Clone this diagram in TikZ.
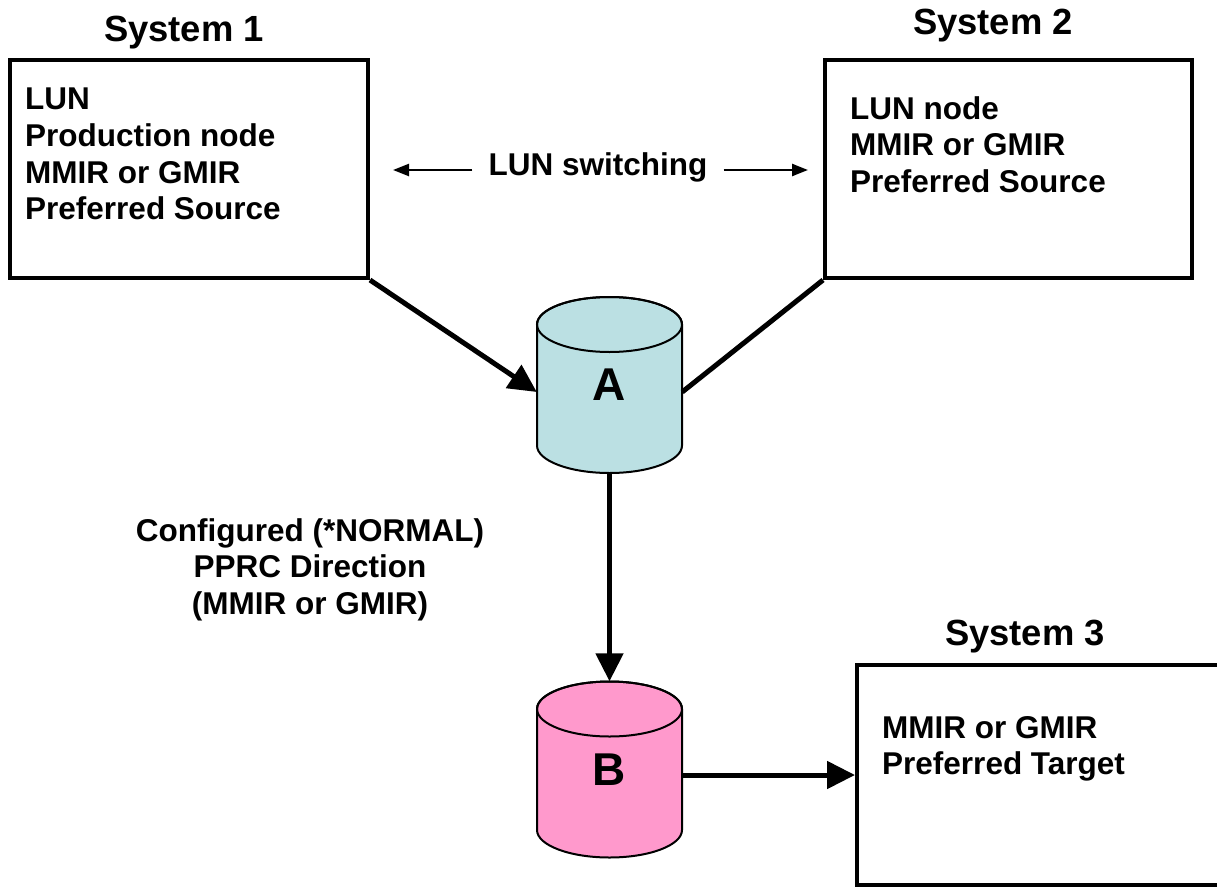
\documentclass[tikz,border=0pt]{standalone}
\usepackage{fontspec}
\setmainfont{Liberation Sans}
\usetikzlibrary{arrows.meta}
\definecolor{cylA}{RGB}{187,224,227}
\definecolor{cylB}{RGB}{255,153,204}
\tikzset{
  sysbox/.style={draw=black, line width=4pt, inner sep=0pt},
  boxtext/.style={font=\bfseries\fontsize{31.5pt}{36.7pt}\selectfont, align=left, anchor=north west, inner sep=0pt},
  midtext/.style={font=\bfseries\fontsize{31.5pt}{36.7pt}\selectfont, align=center, inner sep=0pt},
  title/.style={font=\bfseries\fontsize{36.4pt}{42pt}\selectfont, anchor=base, inner sep=0pt},
  cylnode/.style={minimum width=145pt, minimum height=176pt, inner sep=0pt, font=\bfseries\fontsize{46pt}{50pt}\selectfont},
  bigarrow/.style={line width=5pt, -{Triangle[length=28pt,width=27pt]}},
  bigline/.style={line width=5pt},
  smallarrow/.style={line width=2.4pt, -{Triangle[length=16pt,width=12pt]}},
  pics/cyl/.style={code={
    \filldraw[fill=#1, draw=black, line width=2pt]
      (-72.5pt,60.5pt) -- (-72.5pt,-60.5pt)
      arc[start angle=180, end angle=360, x radius=72.5pt, y radius=27.5pt]
      -- (72.5pt,60.5pt)
      arc[start angle=0, end angle=180, x radius=72.5pt, y radius=27.5pt] -- cycle;
    \draw[line width=2pt] (0pt,60.5pt) ellipse[x radius=72.5pt, y radius=27.5pt];
  }}
}
\begin{document}
\begin{tikzpicture}[x=1pt, y=1pt]
\useasboundingbox (0,0) rectangle (1217,-888);

% system boxes
\node[sysbox, minimum width=358pt, minimum height=218pt] (s1) at (189,-169) {};
\node[sysbox, minimum width=367pt, minimum height=218pt] (s2) at (1008.5,-169) {};
\node[sysbox, minimum width=368pt, minimum height=220pt] (s3) at (1041,-775) {};

% titles
\node[title] (t1) at (184,-42) {System 1};
\node[title] (t2) at (993,-35) {System 2};
\node[title] (t3) at (1025,-645) {System 3};

% box texts
\node[boxtext] (x1) at (25,-88) {LUN\\Production node\\MMIR or GMIR\\Preferred Source};
\node[boxtext] (x2) at (850,-96) {LUN node\\MMIR or GMIR\\Preferred Source};
\node[boxtext] (x3) at (882,-716) {MMIR or GMIR\\Preferred Target};

% cylinders
\pic at (609.5,-385) {cyl=cylA};
\pic at (609.5,-769.5) {cyl=cylB};
\node[cylnode] (A) at (609.5,-385) {A};
\node[cylnode] (B) at (609.5,-769.5) {B};

% LUN switching
\node[midtext, anchor=base, inner xsep=16pt] (lun) at (598,-175) {LUN switching};
\coordinate (lsL) at (393,-170);
\coordinate (lsR) at (808,-170);
\draw[smallarrow] (lun.west |- lsL) -- (lsL);
\draw[smallarrow] (lun.east |- lsR) -- (lsR);

% PPRC label
\node[midtext, anchor=north] (conf) at (310,-518) {Configured (*NORMAL)\\PPRC Direction\\(MMIR or GMIR)};

% connectors
\draw[bigarrow] (s1.south east) -- ([yshift=-7pt]A.west);
\draw[bigline] (s2.south west) -- ([yshift=-7pt]A.east);
\draw[bigarrow] (A.south) -- (B.north);
\draw[bigarrow] (B.east |- s3.west) -- (s3.west);
\end{tikzpicture}
\end{document}
